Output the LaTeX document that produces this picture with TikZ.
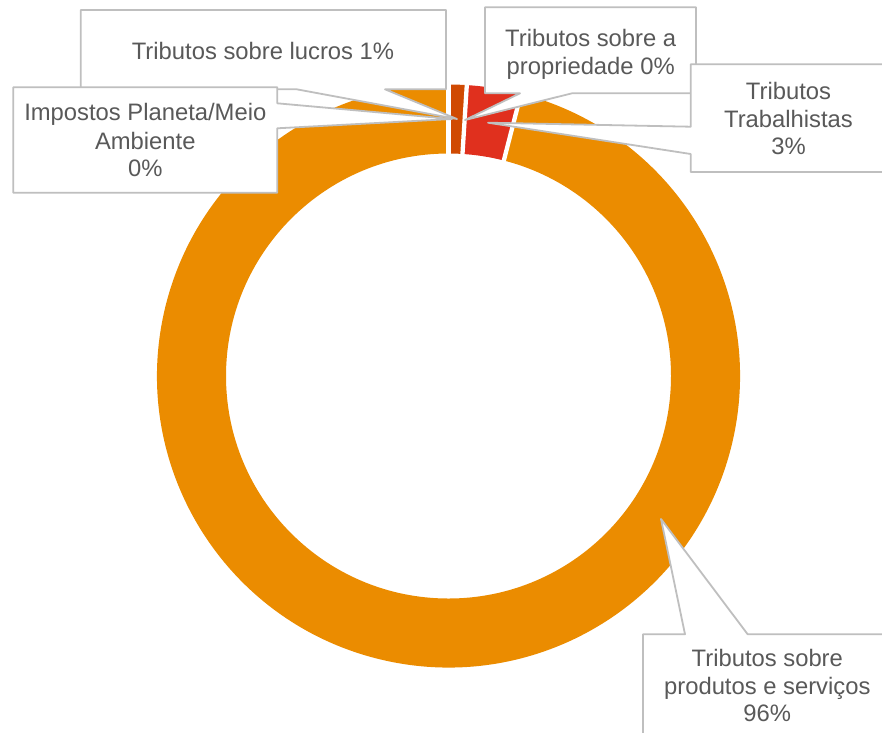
\documentclass[tikz,border=0pt]{standalone}
\usepackage{fontspec}
\setmainfont{Liberation Sans}
\definecolor{cOrange}{HTML}{EB8C00}
\definecolor{cDark}{HTML}{D04A02}
\definecolor{cRed}{HTML}{E0301E}
\definecolor{labelgray}{HTML}{595959}
\definecolor{calloutgray}{HTML}{BFBFBF}
\begin{document}
\begin{tikzpicture}[x=1pt,y=-1pt,
  lbl/.style={anchor=base, inner sep=0pt, text=labelgray, font=\fontsize{23.8}{28}\selectfont},
  callout/.style={draw=calloutgray, line width=1.8pt, fill=white, line join=round},
  sepline/.style={white, line width=4.3pt}]
\useasboundingbox (0,0) rectangle (882,732);
\clip (0,0) rectangle (882,732);
% doughnut ring
\begin{scope}[shift={(448.5,376)}]
  \fill[cOrange] (-75.6:291.5) arc[start angle=-75.6, end angle=270, radius=291.5]
     -- (270:222.5) arc[start angle=270, end angle=-75.6, radius=222.5] -- cycle;
  \fill[cDark] (-90:291.5) arc[start angle=-90, end angle=-86.4, radius=291.5]
     -- (-86.4:222.5) arc[start angle=-86.4, end angle=-90, radius=222.5] -- cycle;
  \fill[cRed] (-86.4:291.5) arc[start angle=-86.4, end angle=-75.6, radius=291.5]
     -- (-75.6:222.5) arc[start angle=-75.6, end angle=-86.4, radius=222.5] -- cycle;
  \draw[sepline] (-90:220) -- (-90:294);
  \draw[sepline] (-86.4:220) -- (-86.4:294);
  \draw[sepline] (-75.6:220) -- (-75.6:294);
\end{scope}
% pointer tips
\coordinate (tipLucros) at (457,119);
\coordinate (tipProp) at (465,120);
\coordinate (tipTrab) at (488,122.7);
\coordinate (tipProd) at (661,519);
\coordinate (tipImp) at (452,119);
% Tributos sobre lucros
\draw[callout] (80.7,10) -- (446,10) -- (446,89.3) -- (385,89.3) -- (tipLucros)
   -- (296.7,89.3) -- (80.7,89.3) -- cycle;
\node[lbl] (lucros) at (263,59) {Tributos sobre lucros 1\%};
% Tributos sobre a propriedade
\draw[callout] (485,7.3) -- (696,7.3) -- (696,93.3) -- (572,93.3) -- (tipProp)
   -- (520,93.3) -- (485,93.3) -- cycle;
\node[lbl] (prop1) at (590.7,46) {Tributos sobre a};
\node[lbl] (prop2) at (590.7,74) {propriedade 0\%};
% Tributos Trabalhistas
\draw[callout] (690.7,64.3) -- (887,64.3) -- (887,172) -- (690.7,172) -- (690.7,154)
   -- (tipTrab) -- (690.7,126.7) -- cycle;
\node[lbl] (trab1) at (788.5,99.5) {Tributos};
\node[lbl] (trab2) at (788.5,127) {Trabalhistas};
\node[lbl] (trab3) at (788.5,154.5) {3\%};
% Tributos sobre produtos e servicos
\draw[callout] (643,634.3) -- (685,634.3) -- (tipProd) -- (747.7,634.3) -- (893,634.3)
   -- (893,742) -- (643,742) -- cycle;
\node[lbl] (prod1) at (767.3,666.5) {Tributos sobre};
\node[lbl] (prod2) at (767.3,694) {produtos e serviços};
\node[lbl] (prod3) at (767.3,721.7) {96\%};
% Impostos Planeta/Meio Ambiente
\draw[callout] (13.3,87.3) -- (277.3,87.3) -- (277.3,103.3) -- (tipImp) -- (277.3,128.3)
   -- (277.3,192.7) -- (13.3,192.7) -- cycle;
\node[lbl] (imp1) at (145.3,120.8) {Impostos Planeta/Meio};
\node[lbl] (imp2) at (145.3,149) {Ambiente};
\node[lbl] (imp3) at (145.3,176.8) {0\%};
\end{tikzpicture}
\end{document}
